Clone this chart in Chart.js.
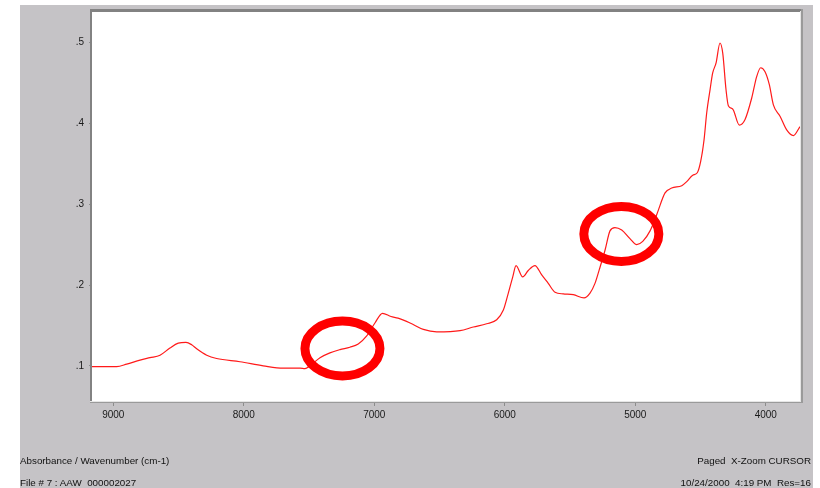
<!DOCTYPE html>
<html>
<head>
<meta charset="utf-8">
<script src="https://cdn.jsdelivr.net/npm/chart.js@4/dist/chart.umd.min.js"></script>
<style>
  html, body { margin: 0; padding: 0; background: #ffffff; }
  #wrap { position: relative; width: 820px; height: 488px; overflow: hidden; }
  #panel { position: absolute; left: 20px; top: 5px; width: 793px; height: 483px; background: #c5c3c6; }
  #chart { position: absolute; left: 0; top: 0; }
  .info { position: absolute; font-family: "Liberation Sans", Arial, sans-serif; font-size: 9.8px; color: #111; white-space: pre; line-height: 12px; }
</style>
</head>
<body>
<div id="wrap">
  <div id="panel"></div>
  <canvas id="chart" width="820" height="488"></canvas>
  <div class="info" style="left:20px; top:455px;">Absorbance / Wavenumber (cm-1)</div>
  <div class="info" style="left:20px; top:477px;">File # 7 : AAW  000002027</div>
  <div class="info" style="right:9px; top:455px; text-align:right;">Paged  X-Zoom CURSOR</div>
  <div class="info" style="right:9px; top:477px; text-align:right;">10/24/2000  4:19 PM  Res=16</div>
</div>
<script>
// Spectrum: wavenumber (cm-1) and absorbance
const wavenumbers = [
  9163, 8974, 8897, 8795, 8719, 8642, 8566, 8502, 8443, 8399,
  8361, 8284, 8208, 8029, 7851, 7697, 7569, 7531, 7493, 7416,
  7340, 7263, 7187, 7123, 7058, 6995, 6937, 6872, 6818, 6726,
  6624, 6522, 6343, 6241, 6139, 6062, 6011, 5973, 5939, 5914,
  5863, 5820, 5769, 5717, 5667, 5615, 5552, 5475, 5393, 5347,
  5309, 5276, 5232, 5194, 5156, 5104, 5041, 4989, 4943, 4887,
  4834, 4772, 4721, 4644, 4606, 4560, 4525, 4499, 4473, 4453,
  4427, 4407, 4381, 4351, 4330, 4305, 4287, 4254, 4203, 4159,
  4108, 4070, 4039, 4006, 3973, 3942, 3891, 3840, 3789, 3738
];
const absorbance = [
  0.099, 0.099, 0.102, 0.107, 0.110, 0.113, 0.122, 0.128, 0.129, 0.126,
  0.121, 0.113, 0.109, 0.105, 0.100, 0.097, 0.097, 0.0965, 0.100, 0.110,
  0.116, 0.120, 0.123, 0.127, 0.137, 0.153, 0.165, 0.161, 0.159, 0.153,
  0.145, 0.142, 0.1435, 0.148, 0.152, 0.157, 0.169, 0.190, 0.210, 0.224,
  0.210, 0.218, 0.224, 0.2125, 0.202, 0.191, 0.189, 0.188, 0.184, 0.190,
  0.202, 0.219, 0.243, 0.267, 0.271, 0.268, 0.2575, 0.250, 0.254, 0.267,
  0.288, 0.314, 0.320, 0.323, 0.328, 0.336, 0.339, 0.353, 0.380, 0.413,
  0.442, 0.4625, 0.475, 0.4996, 0.487, 0.442, 0.422, 0.418, 0.398, 0.405,
  0.4315, 0.458, 0.469, 0.464, 0.448, 0.423, 0.409, 0.392, 0.385, 0.396
];

// Axis ticks
const xTickValues = [9000, 8000, 7000, 6000, 5000, 4000];
const yTickValues = [0.1, 0.2, 0.3, 0.4, 0.5];

// Highlight rings: centre in (wavenumber, absorbance), radii in pixels
const ringCentersX = [7244, 5107];
const ringCentersY = [0.1214, 0.2633];

const points = wavenumbers.map((w, i) => ({ x: w, y: absorbance[i] }));

const frameAndRings = {
  id: 'frameAndRings',
  beforeDraw(chart) {
    const { ctx, chartArea: a } = chart;
    ctx.save();
    ctx.fillStyle = '#ffffff';
    ctx.fillRect(a.left, a.top, a.right - a.left, a.bottom - a.top);
    ctx.restore();
  },
  afterDatasetsDraw(chart) {
    const { ctx, scales } = chart;
    ctx.save();
    ctx.strokeStyle = '#ff0000';
    ctx.lineWidth = 9;
    ringCentersX.forEach((cx, i) => {
      const px = scales.x.getPixelForValue(cx);
      const py = scales.y.getPixelForValue(ringCentersY[i]);
      ctx.beginPath();
      ctx.ellipse(px, py, 37.5, 27.5, 0, 0, Math.PI * 2);
      ctx.stroke();
    });
    ctx.restore();
  },
  afterDraw(chart) {
    const { ctx, chartArea: a } = chart;
    ctx.save();
    // sunken frame: dark top/left, light bottom/right
    ctx.fillStyle = '#828282';
    ctx.fillRect(a.left - 2, a.top - 3, a.right - a.left + 4, 3);
    ctx.fillRect(a.left - 2, a.top - 3, 2, a.bottom - a.top + 4);
    ctx.fillStyle = '#e6e6e6';
    ctx.fillRect(a.left - 2, a.bottom, a.right - a.left + 4, 1);
    ctx.fillRect(a.right, a.top - 1, 1, a.bottom - a.top + 2);
    ctx.fillStyle = '#9a9a9a';
    ctx.fillRect(a.left - 2, a.bottom + 1, a.right - a.left + 5, 1);
    ctx.fillRect(a.right + 1, a.top - 3, 2, a.bottom - a.top + 5);
    ctx.restore();
  }
};

new Chart(document.getElementById('chart'), {
  type: 'line',
  data: {
    datasets: [{
      data: points,
      borderColor: '#ff1a1a',
      borderWidth: 1.2,
      pointRadius: 0,
      fill: false,
      cubicInterpolationMode: 'monotone'
    }]
  },
  options: {
    responsive: false,
    animation: false,
    devicePixelRatio: 1,
    parsing: false,
    layout: { padding: { left: 20, top: 12, right: 20, bottom: 57 } },
    plugins: { legend: { display: false }, tooltip: { enabled: false } },
    scales: {
      x: {
        type: 'linear',
        reverse: true,
        min: 3738,
        max: 9163,
        afterFit(s) { s.height = 30; },
        afterBuildTicks(s) { s.ticks = xTickValues.map(v => ({ value: v })); },
        border: { display: false },
        grid: { display: true, drawOnChartArea: false, drawTicks: true, tickLength: 5, color: '#8c8c8c' },
        ticks: {
          autoSkip: false,
          maxRotation: 0,
          padding: 3,
          color: '#1a1a1a',
          font: { family: '"Liberation Sans", Arial, sans-serif', size: 10 },
          callback: v => String(v)
        }
      },
      y: {
        type: 'linear',
        min: 0.0564,
        max: 0.538,
        afterFit(s) { s.width = 72; },
        afterBuildTicks(s) { s.ticks = yTickValues.map(v => ({ value: v })); },
        border: { display: false },
        grid: { display: true, drawOnChartArea: false, drawTicks: true, tickLength: 3, color: '#8c8c8c' },
        ticks: {
          padding: 5,
          color: '#1a1a1a',
          font: { family: '"Liberation Sans", Arial, sans-serif', size: 10 },
          callback: v => v.toFixed(1).replace(/^0/, '')
        }
      }
    }
  },
  plugins: [frameAndRings]
});
</script>
</body>
</html>
